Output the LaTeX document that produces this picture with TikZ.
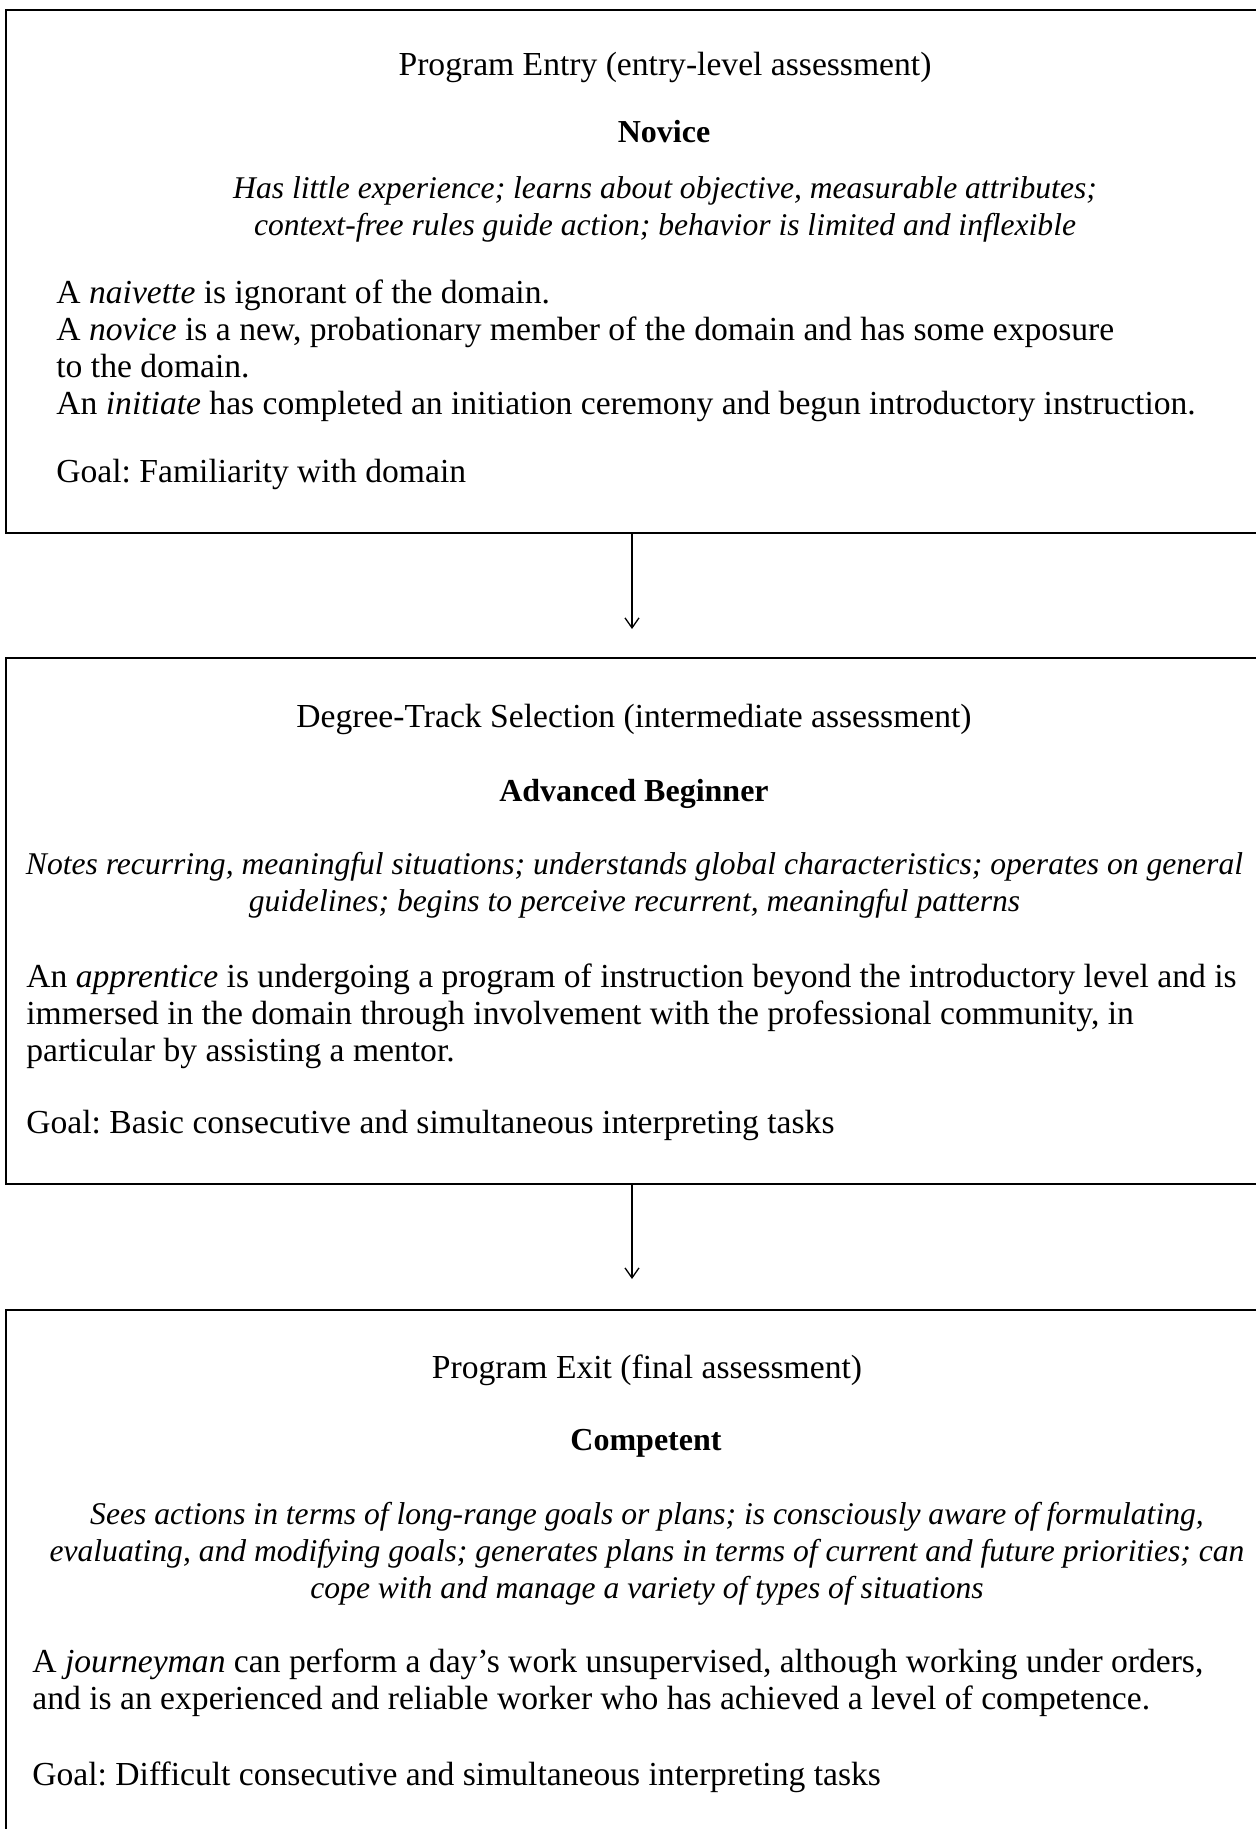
\documentclass[tikz,border=0pt]{standalone}
\usepackage{fontspec}
\setmainfont{Liberation Serif}
\usetikzlibrary{arrows.meta, positioning}

\begin{document}
\frenchspacing
\begin{tikzpicture}[x=0.5pt,y=-0.5pt,>={Straight Barb[length=5pt,width=7pt]}]
  \tikzstyle{stage}=[draw,line width=1pt,rectangle,minimum width=626pt,inner sep=0pt]
  \tikzstyle{txt}=[inner sep=0pt,font=\fontsize{16.8pt}{18.5pt}\selectfont]
  \tikzstyle{head}=[txt,anchor=base]
  \tikzstyle{level}=[txt,anchor=base,font=\fontsize{16pt}{18.5pt}\selectfont\bfseries]
  \tikzstyle{trait}=[txt,anchor=base,align=center,font=\fontsize{15.8pt}{18.5pt}\selectfont\itshape]
  \tikzstyle{body}=[txt,anchor=base west,align=left]

  \useasboundingbox (0,0) rectangle (1256,1829);

  % the three stages
  \node[stage,minimum height=261.5pt] (entry) at (632,271.5) {};
  \node[stage,minimum height=263pt]   (track) at (632,921)   {};
  \node[stage,minimum height=295pt]   (exit)  at (632,1605)  {};

  % program entry (multi-line nodes sit on their last line)
  \node[head]  (entryhead)   at (665,76)  {Program Entry (entry-level assessment)};
  \node[level] (novice)      at (664,143) {Novice};
  \node[trait] (novicetrait) at (665,236) {Has little experience; learns about objective, measurable attributes;\\
    context-free rules guide action; behavior is limited and inflexible};
  \node[body]  (novicebody)  at (56,415)  {A \textit{naivette} is ignorant of the domain.\\
    A \textit{novice} is a new, probationary member of the domain and has some exposure\\
    to the domain.\\
    An \textit{initiate} has completed an initiation ceremony and begun introductory instruction.};
  \node[body]  (novicegoal)  at (56,482)  {Goal: Familiarity with domain};

  % degree-track selection
  \node[head]  (trackhead)   at (634,727) {Degree-Track Selection (intermediate assessment)};
  \node[level] (beginner)    at (634,801) {Advanced Beginner};
  \node[trait] (beginnertrait) at (634.5,911) {Notes recurring, meaningful situations; understands global characteristics; operates on general\\
    guidelines; begins to perceive recurrent, meaningful patterns};
  \node[body]  (beginnerbody) at (26,1061) {An \textit{apprentice} is undergoing a program of instruction beyond the introductory level and is\\
    immersed in the domain through involvement with the professional community, in\\
    particular by assisting a mentor.};
  \node[body]  (beginnergoal) at (26,1133) {Goal: Basic consecutive and simultaneous interpreting tasks};

  % program exit
  \node[head]  (exithead)    at (647,1378) {Program Exit (final assessment)};
  \node[level] (competent)   at (646,1450) {Competent};
  \node[trait] (competenttrait) at (647,1598) {Sees actions in terms of long-range goals or plans; is consciously aware of formulating,\\
    evaluating, and modifying goals; generates plans in terms of current and future priorities; can\\
    cope with and manage a variety of types of situations};
  \node[body]  (competentbody) at (32,1709) {A \textit{journeyman} can perform a day's work unsupervised, although working under orders,\\
    and is an experienced and reliable worker who has achieved a level of competence.};
  \node[body]  (competentgoal) at (32,1785) {Goal: Difficult consecutive and simultaneous interpreting tasks};

  \draw[->,line width=0.65pt,shorten >=14pt] (entry) -- (track);
  \draw[->,line width=0.65pt,shorten >=15pt] (track) -- (exit);
\end{tikzpicture}
\end{document}
